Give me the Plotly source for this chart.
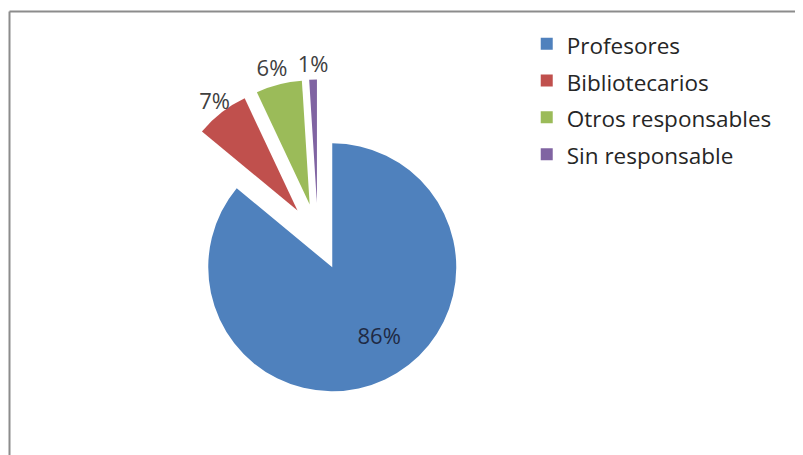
import plotly.graph_objects as go

labels = ["Profesores", "Bibliotecarios", "Otros responsables", "Sin responsable"]
values = [86, 7, 6, 1]
colors = ["#4F81BD", "#C0504D", "#9BBB59", "#8064A2"]
pulls = [0.27, 0.27, 0.27, 0.27]

# page body has an 8px margin; figure sized so it fits the 803x455 window
W, H = 795, 447
cx, cy, r = 310, 229, 124
box = r * (2 + 2 * max(pulls))


def dom(dx=0, dy=0):
    x0 = cx + dx
    y0 = H - (cy + dy)
    return dict(x=[(x0 - box / 2) / W, (x0 + box / 2) / W],
                y=[(y0 - box / 2) / H, (y0 + box / 2) / H])


legend_labels = [f"<span style='font-size:22.5px'>{l}</span>" for l in labels]
font_family = "Open Sans, sans-serif"
clear = ["rgba(0,0,0,0)"] * len(values)


def pie(textpos, marker_colors, show, domain, hole=0, font_color="#404040"):
    return go.Pie(
        labels=legend_labels, values=values, sort=False, direction="clockwise", rotation=0,
        pull=pulls, hole=hole, marker=dict(colors=marker_colors, line=dict(width=0)),
        texttemplate="%{value}%", textposition=textpos,
        insidetextorientation="horizontal",
        textfont=dict(family=font_family, size=22, color=font_color),
        domain=domain, showlegend=show,
        hoverinfo="label+percent" if show else "skip",
    )


fig = go.Figure([
    # visible slices
    pie(["none"] * 4, colors, True, dom()),
    # label of the large slice (placed like the original, a bit further round)
    pie(["inside", "none", "none", "none"], clear, False, dom(11, -9), hole=0.36, font_color="#1f2a44"),
    # outside labels of the two middle slices
    pie(["none", "outside", "outside", "none"], clear, False, dom(16, -3)),
    # label of the smallest slice
    pie(["none", "none", "none", "outside"], clear, False, dom(23, -2)),
])

fig.update_layout(
    width=W, height=H,
    margin=dict(l=0, r=0, t=0, b=0, autoexpand=False),
    paper_bgcolor="white",
    showlegend=True,
    legend=dict(x=0.6525, y=0.9724, xanchor="left", yanchor="top",
                font=dict(family=font_family, size=26, color="#262626"),
                itemwidth=30, bgcolor="rgba(0,0,0,0)"),
    shapes=[
        dict(type="line", xref="paper", yref="paper", x0=1.5 / W, x1=1, y0=(H - 3.5) / H, y1=(H - 3.5) / H,
             line=dict(color="#8c8c8c", width=2)),
        dict(type="line", xref="paper", yref="paper", x0=1.5 / W, x1=1.5 / W, y0=0, y1=(H - 3.5) / H,
             line=dict(color="#8c8c8c", width=2)),
    ],
)

fig.write_html("out.html")
